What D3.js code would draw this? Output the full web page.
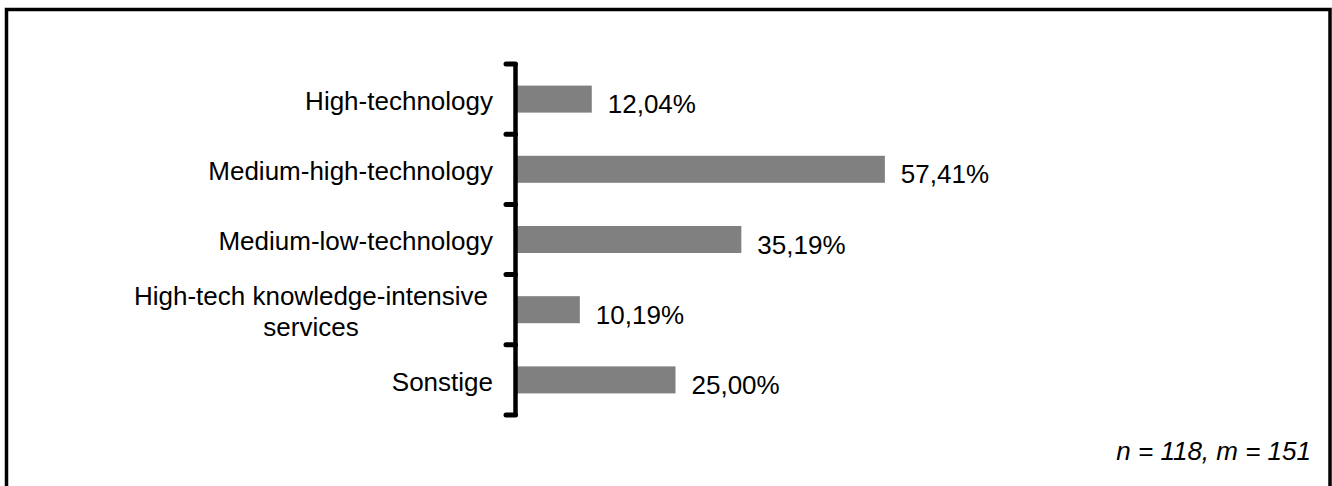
<!DOCTYPE html>
<html>
<head>
<meta charset="utf-8">
<script src="https://cdn.jsdelivr.net/npm/d3@7"></script>
<style>
  html, body { margin: 0; padding: 0; background: #fff; }
  svg { display: block; }
  text { font-family: "Liberation Sans", Arial, sans-serif; fill: #000; }
</style>
</head>
<body>
<svg id="chart" width="1332" height="486"></svg>
<script>
const categories = [
  ["High-technology"],
  ["Medium-high-technology"],
  ["Medium-low-technology"],
  ["High-tech knowledge-intensive", "services"],
  ["Sonstige"]
];
const values = [12.04, 57.41, 35.19, 10.19, 25.00];
const valueLabels = ["12,04%", "57,41%", "35,19%", "10,19%", "25,00%"];
const note = "n = 118, m = 151";

const svg = d3.select("#chart");
const fontSize = 26;

// frame
svg.append("rect")
  .attr("x", 6.5).attr("y", 9.5)
  .attr("width", 1323.5).attr("height", 500)
  .attr("fill", "none").attr("stroke", "#000").attr("stroke-width", 3.5);

const keys = categories.map((c, i) => i);
const x = d3.scaleLinear().domain([0, 100]).range([514, 1160]);
const yBand = d3.scaleBand().domain(keys).range([64, 415])
  .paddingInner(0.615).paddingOuter(0.3075);
const yEdge = d3.scaleLinear().domain([0, keys.length]).range([64, 415]);

// bars
svg.append("g").selectAll("rect")
  .data(values)
  .join("rect")
  .attr("x", x(0))
  .attr("y", (d, i) => yBand(i))
  .attr("width", d => x(d) - x(0))
  .attr("height", yBand.bandwidth())
  .attr("fill", "#808080");

// axis
const axisX = 515.5;
svg.append("line")
  .attr("x1", axisX).attr("x2", axisX)
  .attr("y1", yEdge(0)).attr("y2", yEdge(keys.length))
  .attr("stroke", "#000").attr("stroke-width", 4.5);
svg.append("g").selectAll("line")
  .data(d3.range(keys.length + 1))
  .join("line")
  .attr("x1", 506).attr("x2", axisX)
  .attr("y1", d => yEdge(d)).attr("y2", d => yEdge(d))
  .attr("stroke", "#000").attr("stroke-width", 5)
  .attr("stroke-linecap", "round");

// category labels
const lineH = 31;
categories.forEach((lines, i) => {
  const cy = yBand(i) + yBand.bandwidth() / 2 + 1.5;
  const n = lines.length;
  const t = svg.append("text")
    .attr("font-size", fontSize)
    .attr("text-anchor", n > 1 ? "middle" : "end");
  lines.forEach((ln, j) => {
    t.append("tspan")
      .attr("x", n > 1 ? 311 : 493)
      .attr("y", cy + (j - (n - 1) / 2) * lineH)
      .attr("dy", "0.35em")
      .text(ln);
  });
});

// value labels
svg.append("g").selectAll("text")
  .data(values)
  .join("text")
  .attr("font-size", fontSize)
  .attr("x", d => x(d) + 16)
  .attr("y", (d, i) => yBand(i) + yBand.bandwidth() / 2 + 5)
  .attr("dy", "0.35em")
  .text((d, i) => valueLabels[i]);

// note
svg.append("text")
  .attr("font-size", fontSize)
  .attr("font-style", "italic")
  .attr("text-anchor", "end")
  .attr("x", 1311).attr("y", 460)
  .text(note);
</script>
</body>
</html>
